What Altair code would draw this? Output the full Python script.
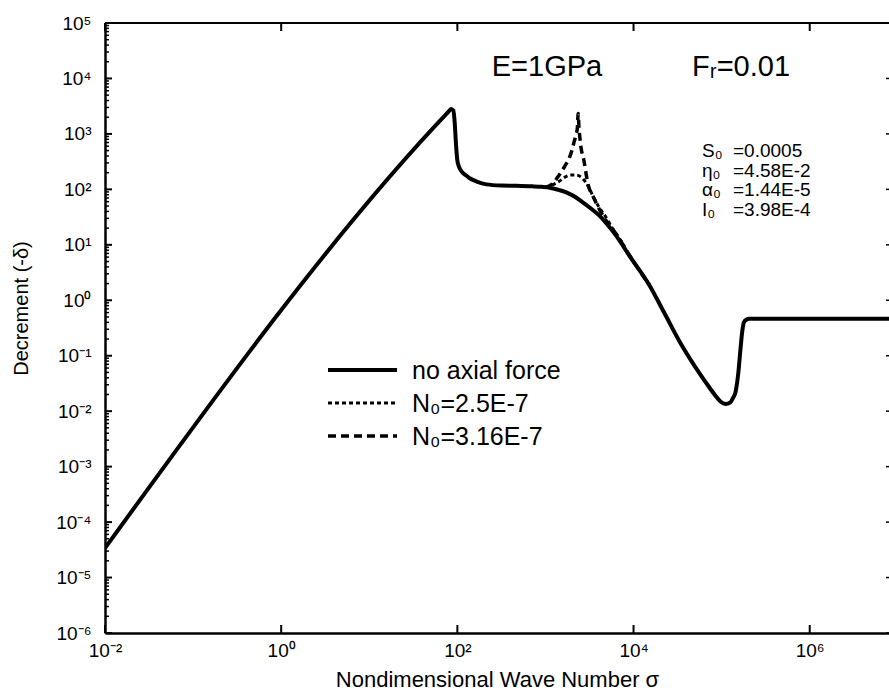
import json
import altair as alt
import pandas as pd

# ---------------- data (log10 units) ----------------
solid_log_sigma = [-2.0, 1.90, 1.93, 1.955, 1.97, 1.985, 2.0, 2.02, 2.05, 2.10, 2.14, 2.22,
                   2.33, 2.50, 2.67, 2.85, 2.96, 3.05, 3.15, 3.23, 3.33, 3.42, 3.52, 3.61,
                   3.70, 3.80, 3.95, 4.18, 4.35, 4.55, 4.70, 4.82, 4.93, 4.99, 5.045, 5.10,
                   5.13, 5.157, 5.19, 5.214, 5.235, 5.252, 5.28, 5.31, 6.90]
solid_log_dec = [-4.47, 3.40, 3.45, 3.42, 3.20, 2.80, 2.52, 2.40, 2.32, 2.25, 2.20, 2.14,
                 2.09, 2.07, 2.065, 2.055, 2.045, 2.03, 1.99, 1.95, 1.87, 1.77, 1.65, 1.53,
                 1.37, 1.17, 0.81, 0.27, -0.23, -0.82, -1.20, -1.48, -1.72, -1.83, -1.87, -1.84,
                 -1.76, -1.66, -1.30, -0.88, -0.55, -0.40, -0.35, -0.335, -0.335]

n316_log_sigma = [3.0, 3.08, 3.156, 3.22, 3.269, 3.30, 3.326, 3.35, 3.362, 3.372, 3.38,
                  3.392, 3.40, 3.439, 3.477, 3.552, 3.628, 3.70, 3.76, 3.85, 3.95, 4.18]
n316_log_dec = [2.035, 2.10, 2.26, 2.42, 2.56, 2.70, 2.86, 3.00, 3.10, 3.37, 3.12,
                2.92, 2.80, 2.50, 2.14, 1.835, 1.595, 1.41, 1.29, 1.08, 0.82, 0.28]

n25_log_sigma = [3.0, 3.08, 3.15, 3.232, 3.29, 3.345, 3.42, 3.477, 3.533, 3.60, 3.685,
                 3.76, 3.85, 3.95, 4.18]
n25_log_dec = [2.035, 2.08, 2.14, 2.23, 2.26, 2.26, 2.20, 2.08, 1.90, 1.70, 1.50,
               1.30, 1.09, 0.82, 0.28]

series_names = ["no axial force", "N\u2080=2.5E-7", "N\u2080=3.16E-7"]

x_tick_values = [1e-2, 1e0, 1e2, 1e4, 1e6]
x_tick_labels = ["10\u207b\u00b2", "10\u2070", "10\u00b2", "10\u2074", "10\u2076"]
y_tick_values = [1e-6, 1e-5, 1e-4, 1e-3, 1e-2, 1e-1, 1e0, 1e1, 1e2, 1e3, 1e4, 1e5]
y_tick_labels = ["10\u207b\u2076", "10\u207b\u2075", "10\u207b\u2074", "10\u207b\u00b3",
                 "10\u207b\u00b2", "10\u207b\u00b9", "10\u2070", "10\u00b9", "10\u00b2",
                 "10\u00b3", "10\u2074", "10\u2075"]
y_minor_values = [m * v for v in y_tick_values[:-1] for m in range(2, 10)]

param_symbols = ["S\u2080", "\u03b7\u2080", "\u03b1\u2080", "I\u2080"]
param_values = ["=0.0005", "=4.58E-2", "=1.44E-5", "=3.98E-4"]

# ---------------- layout ----------------
W, H = 784, 610
FONT = "Liberation Sans"

def frame(ls, ld):
    return pd.DataFrame({"s": [10 ** v for v in ls], "d": [10 ** v for v in ld]})

solid_df = frame(solid_log_sigma, solid_log_dec)
n25_df = frame(n25_log_sigma, n25_log_dec)
n316_df = frame(n316_log_sigma, n316_log_dec)

xscale = alt.Scale(type="log", domain=[1e-2, 10 ** 6.9], nice=False)
yscale = alt.Scale(type="log", domain=[1e-6, 1e5], nice=False)

y_expr = "%s[round(log(datum.value)/LN10)+6]" % json.dumps(y_tick_labels, ensure_ascii=False)
x_expr = "%s[round(log(datum.value)/LN10/2)+1]" % json.dumps(x_tick_labels, ensure_ascii=False)

xaxis = alt.Axis(values=x_tick_values, labelExpr=x_expr, ticks=False, grid=False,
                 domainColor="black", domainWidth=2.5, labelFontSize=19, labelPadding=8,
                 labelColor="black", labelFont=FONT, labelFlush=False,
                 title="Nondimensional Wave Number  \u03c3", titleFont=FONT,
                 titleFontSize=22, titleFontWeight="normal", titlePadding=9,
                 titleColor="black")
yaxis = alt.Axis(values=y_tick_values, labelExpr=y_expr, ticks=False, grid=False,
                 domainColor="black", domainWidth=2.5, labelFontSize=19, labelPadding=14,
                 labelColor="black", labelFont=FONT, labelFlush=False,
                 title="Decrement (-\u03b4)", titleFont=FONT, titleFontSize=20,
                 titleFontWeight="normal", titlePadding=24, titleColor="black",
                 titleY=285)

def XE(field="s"):
    return alt.X(field, type="quantitative", scale=xscale, axis=xaxis)

def YE(field="d"):
    return alt.Y(field, type="quantitative", scale=yscale, axis=yaxis)

solid = alt.Chart(solid_df).mark_line(color="black", strokeWidth=4, interpolate="monotone",
                                      clip=True).encode(x=XE(), y=YE())
dot = alt.Chart(n25_df).mark_line(color="black", strokeWidth=3, strokeDash=[4, 3],
                                  interpolate="monotone", clip=True).encode(x=XE(), y=YE())
dash = alt.Chart(n316_df).mark_line(color="black", strokeWidth=3.5, strokeDash=[8, 5],
                                    interpolate="monotone", clip=True).encode(x=XE(), y=YE())

# inward ticks
ymaj = pd.DataFrame({"d": y_tick_values})
ymin = pd.DataFrame({"d": y_minor_values})
xmaj = pd.DataFrame({"s": x_tick_values})
tick_left = alt.Chart(ymaj).mark_rule(color="black", strokeWidth=2).encode(
    y=YE(), x=alt.value(0), x2=alt.value(7))
tick_left_minor = alt.Chart(ymin).mark_rule(color="black", strokeWidth=1.5).encode(
    y=YE(), x=alt.value(0), x2=alt.value(4))
tick_right = alt.Chart(ymaj).mark_rule(color="black", strokeWidth=1.5).encode(
    y=YE(), x=alt.value(W - 3), x2=alt.value(W))
tick_bottom = alt.Chart(xmaj).mark_rule(color="black", strokeWidth=2).encode(
    x=XE(), y=alt.value(H), y2=alt.value(H - 8))
tick_top = alt.Chart(xmaj).mark_rule(color="black", strokeWidth=2).encode(
    x=XE(), y=alt.value(0), y2=alt.value(8))
top_border = alt.Chart(pd.DataFrame({"k": [0]})).mark_rule(color="black", strokeWidth=2).encode(
    x=alt.value(0), x2=alt.value(W), y=alt.value(0))

one = pd.DataFrame({"k": [0]})

def txt(s, x, y, size, align="left"):
    return alt.Chart(one).mark_text(text=s, font=FONT, fontSize=size, color="black",
                                    align=align, baseline="alphabetic").encode(
        x=alt.value(x), y=alt.value(y))

annots = [txt("E=1GPa", 442, 53, 29, "center"), txt("F\u1d63=0.01", 587, 53, 29)]
for i, (sym, val) in enumerate(zip(param_symbols, param_values)):
    annots.append(txt(sym, 597, 134 + 19.5 * i, 19))
    annots.append(txt(val, 628, 134 + 19.5 * i, 19))

# legend
leg_y = [347, 380, 413]
leg_dash = [None, [4, 3], [8, 5]]
leg_w = [4, 3, 3.5]
legend = []
for name, yy, dsh, sw in zip(series_names, leg_y, leg_dash, leg_w):
    kw = dict(color="black", strokeWidth=sw)
    if dsh:
        kw["strokeDash"] = dsh
    legend.append(alt.Chart(one).mark_rule(**kw).encode(
        x=alt.value(223), x2=alt.value(292), y=alt.value(yy)))
    legend.append(txt(name, 307, yy + 9, 25))

chart = alt.layer(
    solid, dot, dash, tick_left, tick_left_minor, tick_right, tick_bottom, tick_top,
    top_border, *annots, *legend
).properties(
    width=W, height=H,
    autosize=alt.AutoSizeParams(type="none"),
    padding={"left": 105, "top": 23, "right": 0, "bottom": 60},
    background="white",
).configure_view(stroke=None)

chart.save("out.html", embed_options={"renderer": "svg", "actions": False})
